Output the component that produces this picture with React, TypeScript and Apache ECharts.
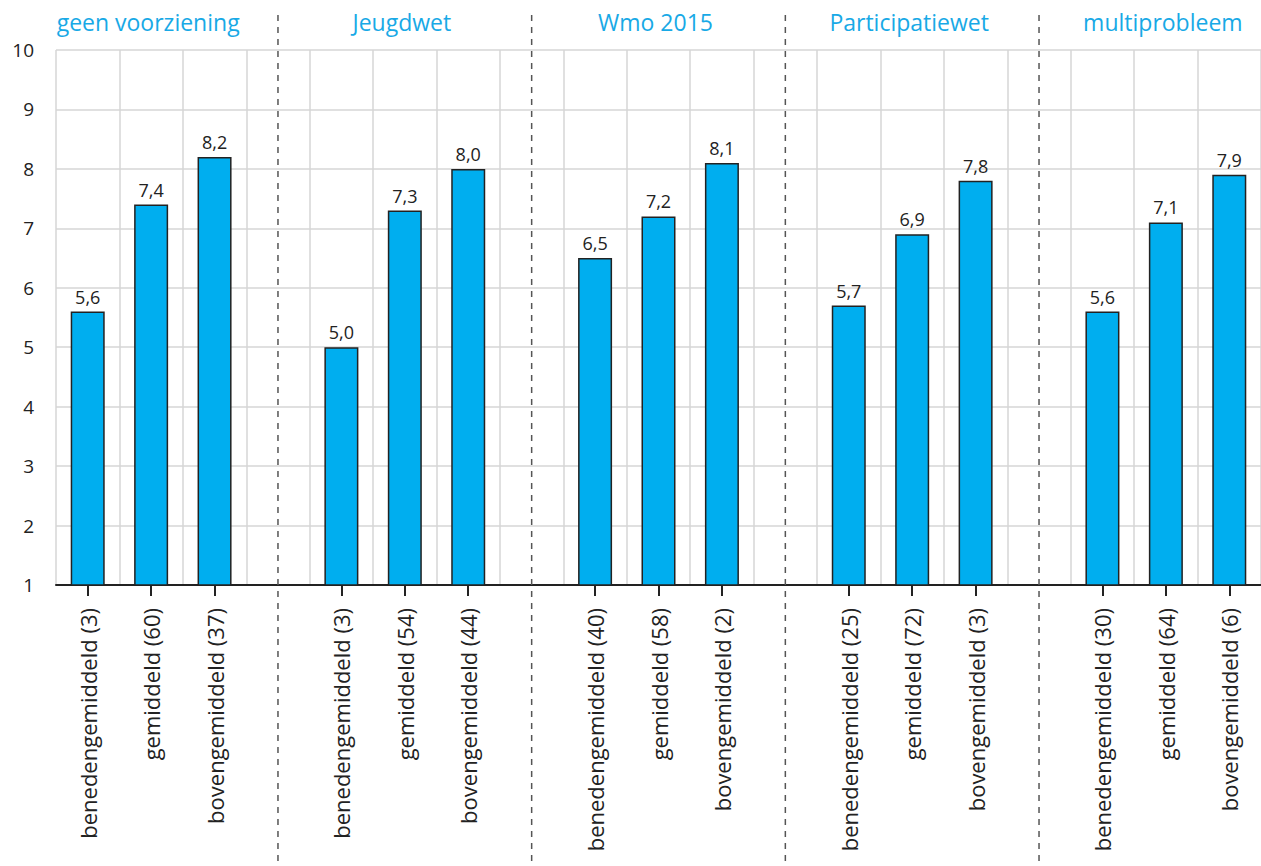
import React, { useEffect, useRef } from "react";
import * as echarts from "echarts";

const groups = ["geen voorziening", "Jeugdwet", "Wmo 2015", "Participatiewet", "multiprobleem"];
const levels = ["benedengemiddeld", "gemiddeld", "bovengemiddeld"];
const counts = [
  [3, 60, 37],
  [3, 54, 44],
  [40, 58, 2],
  [25, 72, 3],
  [30, 64, 6],
];
const values = [
  [5.6, 7.4, 8.2],
  [5.0, 7.3, 8.0],
  [6.5, 7.2, 8.1],
  [5.7, 6.9, 7.8],
  [5.6, 7.1, 7.9],
];
const yTicks = [1, 2, 3, 4, 5, 6, 7, 8, 9, 10];

const FONT = "'Open Sans', 'Noto Sans', sans-serif";
const BLUE = "#00AEEF";
const TITLE_BLUE = "#18A9E6";

export default function App() {
  const ref = useRef<HTMLDivElement>(null);
  useEffect(() => {
    if (!ref.current) return;
    const chart = echarts.init(ref.current, undefined, { renderer: "svg" });

    const cats: string[] = [];
    const labels: string[] = [];
    const data: (number | null)[] = [];
    const isBar: boolean[] = [];
    const gapCats: string[] = [];
    const middleCats: string[] = [];
    groups.forEach((g, gi) => {
      levels.forEach((lv, li) => {
        const id = "c" + cats.length;
        cats.push(id);
        labels.push(`${lv} (${counts[gi][li]})`);
        data.push(values[gi][li]);
        isBar.push(true);
        if (li === 1) middleCats.push(id);
      });
      if (gi < groups.length - 1) {
        const id = "c" + cats.length;
        cats.push(id);
        labels.push("");
        data.push(null);
        isBar.push(false);
        gapCats.push(id);
      }
    });

    chart.setOption({
      animation: false,
      textStyle: { fontFamily: FONT },
      grid: { left: 56, right: 0, top: 50, bottom: 281, containLabel: false },
      xAxis: {
        type: "category",
        data: cats,
        boundaryGap: true,
        axisLine: { show: true, lineStyle: { color: "#222", width: 2 } },
        axisTick: {
          show: true,
          alignWithLabel: true,
          interval: (i: number) => isBar[i],
          length: 11,
          lineStyle: { color: "#222", width: 2 },
        },
        axisLabel: {
          interval: 0,
          rotate: 90,
          margin: 23,
          fontSize: 22,
          color: "#222",
          fontFamily: FONT,
          formatter: (_v: string, i: number) => labels[i],
        },
        splitLine: { show: true, interval: 0, lineStyle: { color: "#d6d6d6", width: 1.5 } },
      },
      yAxis: {
        type: "value",
        min: yTicks[0],
        max: yTicks[yTicks.length - 1],
        interval: 1,
        axisLine: { show: false },
        axisTick: { show: false },
        axisLabel: { fontSize: 19, color: "#222", margin: 22, fontFamily: FONT },
        splitLine: { show: true, lineStyle: { color: "#d6d6d6", width: 1.5 } },
      },
      series: [
        {
          type: "bar",
          data,
          barWidth: 34,
          itemStyle: { color: BLUE, borderColor: "#222", borderWidth: 1.5 },
          label: {
            show: true,
            position: "top",
            distance: 6,
            fontSize: 18,
            color: "#222",
            fontFamily: FONT,
            formatter: (p: any) => p.value.toFixed(1).replace(".", ","),
          },
        },
      ],
    });

    const graphics: any[] = [];
    gapCats.forEach((c) => {
      const x = chart.convertToPixel({ xAxisIndex: 0 }, c) as number;
      graphics.push({
        type: "line",
        shape: { x1: x, y1: 15, x2: x, y2: 866 },
        style: { stroke: "#555", lineWidth: 1.5, lineDash: [6, 6] },
        z: 10,
      });
    });
    middleCats.forEach((c, gi) => {
      const x = chart.convertToPixel({ xAxisIndex: 0 }, c) as number;
      graphics.push({
        type: "text",
        x: x - 3,
        y: 22,
        style: {
          text: groups[gi],
          fill: TITLE_BLUE,
          fontSize: 23,
          fontFamily: FONT,
          textAlign: "center",
          textVerticalAlign: "middle",
        },
      });
    });
    chart.setOption({ graphic: graphics });

    return () => chart.dispose();
  }, []);
  return (
    <div
      ref={ref}
      style={{ position: "absolute", left: 0, top: 0, width: 1261, height: 866 }}
    />
  );
}
